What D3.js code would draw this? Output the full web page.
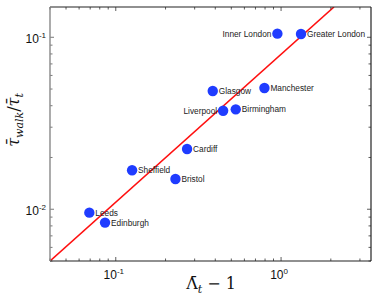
<!DOCTYPE html>
<html>
<head>
<meta charset="utf-8">
<script src="https://cdn.jsdelivr.net/npm/d3@7"></script>
<style>
  body { margin: 0; background: #fff; }
  svg { display: block; }
</style>
</head>
<body>
<div id="chart"></div>
<script>
// Chart size and plot margins.
var width = 374;
var height = 301;
var margin = { top: 7, right: 3, bottom: 40, left: 50 };

// Cities, x = mean Lambda_t - 1, y = mean tau_walk / tau_t.
var cities = ["Inner London", "Greater London", "Glasgow", "Manchester", "Liverpool",
  "Birmingham", "Cardiff", "Sheffield", "Bristol", "Leeds", "Edinburgh"];
var lambdaValues = [0.95, 1.32, 0.386, 0.793, 0.446, 0.532, 0.270, 0.1255, 0.2296, 0.0692, 0.0861];
var tauValues = [0.105, 0.1045, 0.0487, 0.0507, 0.0374, 0.0381, 0.0224, 0.01686, 0.0150, 0.00955, 0.00836];
// labels on the left of the dot
var leftLabels = ["Inner London", "Liverpool"];

// Fitted power law line, endpoints.
var fitX = [0.04, 2.09];
var fitY = [0.005, 0.15];

var xDomain = [0.04, 3.5];
var yDomain = [0.005, 0.15];
var xMajor = [0.1, 1];
var yMajor = [0.01, 0.1];
var xTickLabels = ["-1", "0"];
var yTickLabels = ["-2", "-1"];

var svg = d3.select("#chart").append("svg")
    .attr("width", width)
    .attr("height", height);

var x = d3.scaleLog().domain(xDomain).range([margin.left, width - margin.right]);
var y = d3.scaleLog().domain(yDomain).range([height - margin.bottom, margin.top]);

var x0 = margin.left, x1 = width - margin.right;
var y0 = height - margin.bottom, y1 = margin.top;

// minor ticks inside each decade
function minorTicks(domain) {
  var out = [];
  for (var e = -4; e <= 2; e++) {
    for (var k = 1; k <= 9; k++) {
      var v = k * Math.pow(10, e);
      if (v >= domain[0] && v <= domain[1]) out.push({ v: v, major: k == 1 });
    }
  }
  return out;
}

var plot = svg.append("g");

// Clip for the fit line.
svg.append("clipPath").attr("id", "clip")
  .append("rect")
    .attr("x", x0).attr("y", y1)
    .attr("width", x1 - x0).attr("height", y0 - y1);

var line = d3.line()
    .x(function(d) { return x(d[0]); })
    .y(function(d) { return y(d[1]); });

plot.append("path")
    .datum(d3.zip(fitX, fitY))
    .attr("d", line)
    .attr("clip-path", "url(#clip)")
    .attr("fill", "none")
    .attr("stroke", "#ff1010")
    .attr("stroke-width", 1.6);

// Ticks, inward on all four sides.
var xt = minorTicks(xDomain);
var yt = minorTicks(yDomain);

plot.selectAll(".xtb").data(xt).enter().append("line")
    .attr("x1", function(d) { return x(d.v); })
    .attr("x2", function(d) { return x(d.v); })
    .attr("y1", y0)
    .attr("y2", function(d) { return y0 - (d.major ? 4 : 2.5); })
    .attr("stroke", "#333").attr("stroke-width", 0.8);
plot.selectAll(".xtt").data(xt).enter().append("line")
    .attr("x1", function(d) { return x(d.v); })
    .attr("x2", function(d) { return x(d.v); })
    .attr("y1", y1)
    .attr("y2", function(d) { return y1 + (d.major ? 4 : 2.5); })
    .attr("stroke", "#333").attr("stroke-width", 0.8);
plot.selectAll(".ytl").data(yt).enter().append("line")
    .attr("y1", function(d) { return y(d.v); })
    .attr("y2", function(d) { return y(d.v); })
    .attr("x1", x0)
    .attr("x2", function(d) { return x0 + (d.major ? 4 : 2.5); })
    .attr("stroke", "#555").attr("stroke-width", 0.8);
plot.selectAll(".ytr").data(yt).enter().append("line")
    .attr("y1", function(d) { return y(d.v); })
    .attr("y2", function(d) { return y(d.v); })
    .attr("x1", x1)
    .attr("x2", function(d) { return x1 - (d.major ? 4 : 2.5); })
    .attr("stroke", "#333").attr("stroke-width", 0.8);

// Box.
plot.append("line").attr("x1", x0).attr("x2", x1).attr("y1", y0).attr("y2", y0)
    .attr("stroke", "#222").attr("stroke-width", 1.2);
plot.append("line").attr("x1", x0).attr("x2", x1).attr("y1", y1).attr("y2", y1)
    .attr("stroke", "#222").attr("stroke-width", 1.2);
plot.append("line").attr("x1", x0).attr("x2", x0).attr("y1", y1).attr("y2", y0)
    .attr("stroke", "#888").attr("stroke-width", 1.4);
plot.append("line").attr("x1", x1).attr("x2", x1).attr("y1", y1).attr("y2", y0)
    .attr("stroke", "#222").attr("stroke-width", 1.2);

// Tick labels 10^n.
var xl = svg.selectAll(".xlab").data(xMajor).enter().append("text")
    .attr("x", function(d) { return x(d) - 2; })
    .attr("y", y0 + 18)
    .attr("text-anchor", "middle")
    .attr("font-family", "Liberation Sans, Arial, sans-serif")
    .attr("font-size", 12)
    .attr("fill", "#111");
xl.append("tspan").text("10");
xl.append("tspan").attr("dy", -5).attr("font-size", 8)
    .text(function(d, i) { return xTickLabels[i]; });

var yl = svg.selectAll(".ylab").data(yMajor).enter().append("text")
    .attr("x", x0 - 4)
    .attr("y", function(d) { return y(d) + 6; })
    .attr("text-anchor", "end")
    .attr("font-family", "Liberation Sans, Arial, sans-serif")
    .attr("font-size", 12)
    .attr("fill", "#111");
yl.append("tspan").text("10");
yl.append("tspan").attr("dy", -5).attr("font-size", 8)
    .text(function(d, i) { return yTickLabels[i]; });

// Points.
var data = d3.range(cities.length).map(function(i) {
  return { name: cities[i], x: lambdaValues[i], y: tauValues[i] };
});

plot.selectAll("circle").data(data).enter().append("circle")
    .attr("cx", function(d) { return x(d.x); })
    .attr("cy", function(d) { return y(d.y); })
    .attr("r", 5.2)
    .attr("fill", "#1f3cff");

plot.selectAll(".city").data(data).enter().append("text")
    .attr("x", function(d) {
      return leftLabels.indexOf(d.name) >= 0 ? x(d.x) - 6 : x(d.x) + 6;
    })
    .attr("y", function(d) { return y(d.y) + 3; })
    .attr("text-anchor", function(d) { return leftLabels.indexOf(d.name) >= 0 ? "end" : "start"; })
    .attr("font-family", "Liberation Sans, Arial, sans-serif")
    .attr("font-size", 8.3)
    .attr("fill", "#222")
    .text(function(d) { return d.name; });

// Axis titles, LaTeX style.
var xTitle = svg.append("text")
    .attr("x", 211)
    .attr("y", 289)
    .attr("text-anchor", "middle")
    .attr("font-family", "DejaVu Serif, Liberation Serif, serif")
    .attr("font-size", 16)
    .attr("fill", "#111");
xTitle.append("tspan").text("\u039B\u0304");
xTitle.append("tspan").attr("font-style", "italic").attr("font-size", 11).attr("dy", 4).text("t");
xTitle.append("tspan").attr("dy", -4).text(" \u2212 1");

var yTitle = svg.append("text")
    .attr("transform", "translate(19,120) rotate(-90)")
    .attr("text-anchor", "middle")
    .attr("font-family", "DejaVu Serif, Liberation Serif, serif")
    .attr("font-size", 16)
    .attr("fill", "#111");
yTitle.append("tspan").attr("font-style", "italic").text("\u03C4\u0304");
yTitle.append("tspan").attr("font-style", "italic").attr("font-size", 11).attr("dy", 4).text("walk");
yTitle.append("tspan").attr("dy", -4).text("/");
yTitle.append("tspan").attr("font-style", "italic").text("\u03C4\u0304");
yTitle.append("tspan").attr("font-style", "italic").attr("font-size", 11).attr("dy", 4).text("t");
</script>
</body>
</html>
